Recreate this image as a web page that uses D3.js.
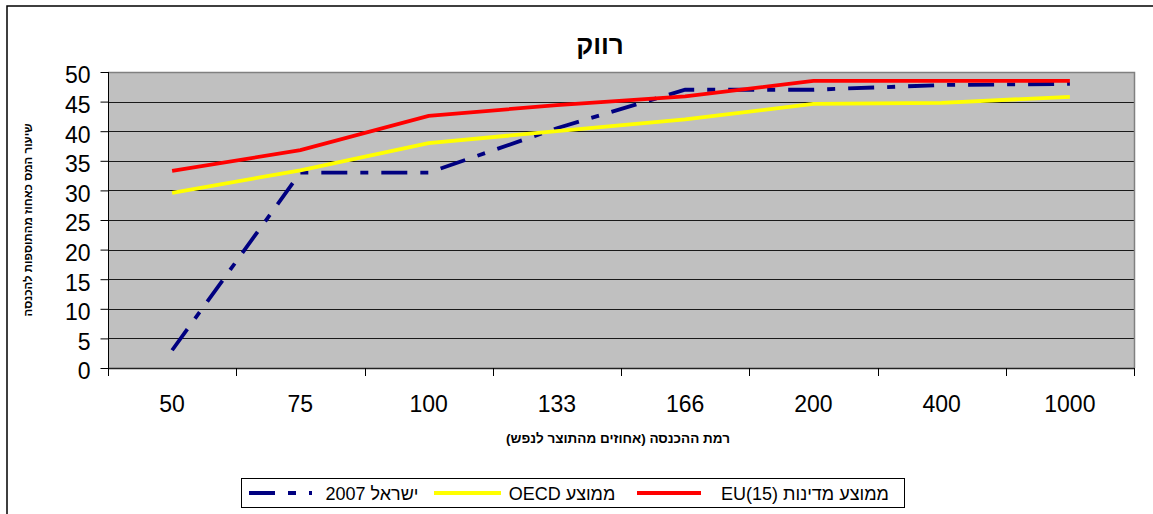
<!DOCTYPE html>
<html><head><meta charset="utf-8">
<script src="https://cdn.jsdelivr.net/npm/d3@7"></script>
<style>body{margin:0;background:#fff}svg{display:block}text{font-family:"Liberation Sans",Arial,sans-serif}</style>
</head><body><svg id="c" width="1153" height="514"></svg>
<script>
const categories = ["50","75","100","133","166","200","400","1000"];
const israel2007 = [3, 33, 33, 40.5, 47, 47, 47.8, 48];
const oecdAvg    = [29.6, 33.4, 38, 40, 42, 44.6, 44.8, 45.8];
const eu15Avg    = [33.3, 36.8, 42.6, 44.4, 45.9, 48.5, 48.5, 48.5];
const yTicks = [0,5,10,15,20,25,30,35,40,45,50];
const title = "רווק";
const xTitle = "רמת ההכנסה (אחוזים מהתוצר לנפש)";
const yTitle = "שיעור המס כאחוז מהתוספות להכנסה";
const seriesNames = ["ישראל 2007", "ממוצע OECD", "ממוצע מדינות EU(15)"];

const svg = d3.select("#c");
const L=108, R=1134, T=72, B=368;
const x = d3.scaleBand().domain(categories).range([L,R]).padding(0);
const y = d3.scaleLinear().domain([0,50]).range([B,T]);
const cx = d => x(d)+x.bandwidth()/2;

// outer border
svg.append("rect").attr("x",7).attr("y",6).attr("width",1170).attr("height",540)
  .attr("fill","none").attr("stroke","#000").attr("stroke-width",1.5);

// plot area
svg.append("rect").attr("x",L).attr("y",T).attr("width",R-L).attr("height",B-T).attr("fill","#C0C0C0");
svg.append("g").selectAll("line").data(yTicks.filter(v=>v>0&&v<50)).join("line")
  .attr("x1",L).attr("x2",R).attr("y1",d=>Math.round(y(d))+0.5).attr("y2",d=>Math.round(y(d))+0.5)
  .attr("stroke","#1a1a1a").attr("stroke-width",1);
// plot border top/right
svg.append("path").attr("d",`M${L},${T+0.5}H${R+0.5}V${B}`).attr("fill","none").attr("stroke","#808080").attr("stroke-width",1.5);

// y axis
const ya = d3.axisLeft(y).tickValues(yTicks).tickSize(8).tickPadding(10);
const gy = svg.append("g").attr("transform",`translate(${L+0.5},0)`).call(ya);
gy.select(".domain").attr("stroke","#000").attr("d",`M0,${T}V${B+8}`);
gy.selectAll(".tick line").attr("stroke","#000");
gy.selectAll(".tick text").attr("font-size",23).attr("fill","#000").attr("dy","0.47em")
  .style("font-family","'Liberation Sans',Arial,sans-serif");

// x axis line and ticks at band edges
svg.append("line").attr("x1",L).attr("x2",R).attr("y1",B+0.5).attr("y2",B+0.5).attr("stroke","#222").attr("stroke-width",1.5);
const edges = categories.map(c=>x(c)).concat([R]);
svg.append("g").selectAll("line").data(edges).join("line")
  .attr("x1",d=>Math.round(d)+0.5).attr("x2",d=>Math.round(d)+0.5).attr("y1",B).attr("y2",B+8)
  .attr("stroke","#000").attr("stroke-width",1);
svg.append("g").selectAll("text").data(categories).join("text")
  .attr("x",d=>cx(d)).attr("y",412).attr("text-anchor","middle").attr("font-size",23).text(d=>d);

// lines
const line = d3.line().x((d,i)=>cx(categories[i])).y(d=>y(d));
const series = [
  {name:seriesNames[0], values:israel2007, color:"#000080", dash:"26,13,8,13"},
  {name:seriesNames[1], values:oecdAvg, color:"#FFFF00", dash:null},
  {name:seriesNames[2], values:eu15Avg, color:"#FF0000", dash:null}
];
series.forEach(s=>{
  svg.append("path").attr("d",line(s.values)).attr("fill","none").attr("stroke",s.color)
    .attr("stroke-width",3.8).attr("stroke-dasharray",s.dash);
});

// title
svg.append("text").attr("x",600).attr("y",54).attr("text-anchor","middle").attr("font-size",26)
  .attr("font-weight","bold").attr("direction","rtl").text(title);
svg.append("text").attr("x",618).attr("y",443).attr("text-anchor","middle").attr("font-size",13.5)
  .attr("font-weight","bold").attr("direction","rtl").text(xTitle);
svg.append("text").attr("transform","translate(32,220) rotate(-90)").attr("text-anchor","middle")
  .attr("font-size",11.5).attr("font-weight","bold").attr("direction","rtl").text(yTitle);

// legend
svg.append("rect").attr("x",241.5).attr("y",478.5).attr("width",663).attr("height",29)
  .attr("fill","#fff").attr("stroke","#000").attr("stroke-width",1);
const leg = [
  {x1:249,x2:312,tx:372},
  {x1:434,x2:501,tx:562},
  {x1:637,x2:701,tx:805}
];
series.forEach((s,i)=>{
  const l=leg[i];
  svg.append("line").attr("x1",l.x1).attr("x2",l.x2).attr("y1",493).attr("y2",493)
    .attr("stroke",s.color).attr("stroke-width",3.8).attr("stroke-dasharray",s.dash);
  svg.append("text").attr("x",l.tx).attr("y",499.5).attr("text-anchor","middle").attr("font-size",18)
    .attr("direction","rtl").text(s.name);
});
</script></body></html>
